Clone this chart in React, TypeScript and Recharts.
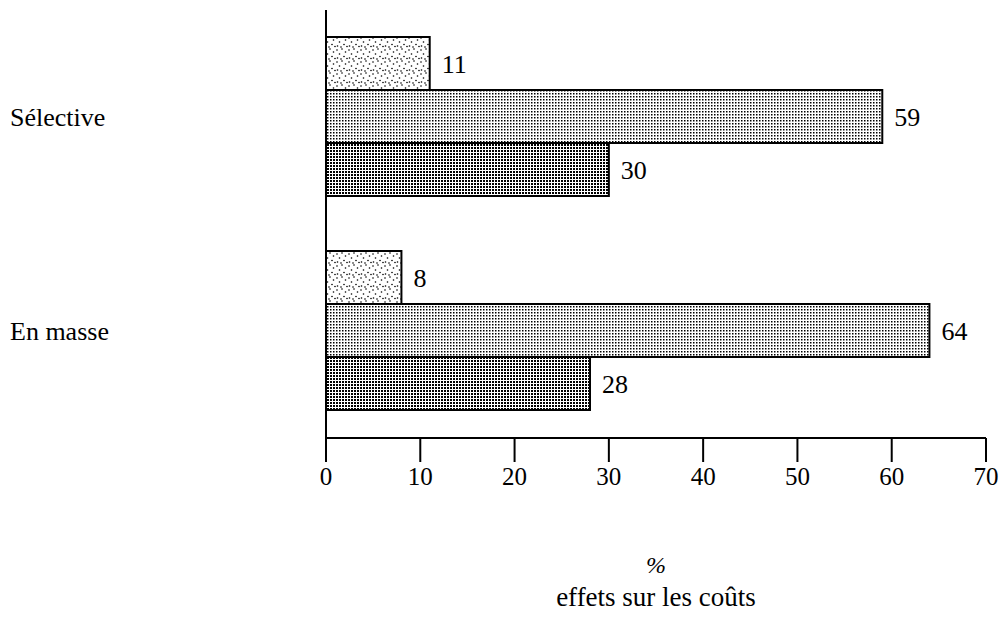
import React from 'react';
import { BarChart, Bar, XAxis, YAxis, LabelList, Label } from 'recharts';

const categories = ['Sélective', 'En masse'];
const serieA = [11, 8];
const serieB = [59, 64];
const serieC = [30, 28];
const xTicks = [0, 10, 20, 30, 40, 50, 60, 70];

const data = categories.map((c, i) => ({ cat: c, a: serieA[i], b: serieB[i], c: serieC[i] }));

const FONT = '"Liberation Serif", "DejaVu Serif", serif';

const CatTick = (props: any) => {
  const { y, payload } = props;
  return (
    <text x={10} y={y} dy="0.35em" textAnchor="start" fontFamily={FONT} fontSize={26} fill="#000">
      {payload.value}
    </text>
  );
};

const AxisTitle = (props: any) => {
  const vb = props.viewBox || {};
  const cx = 656;
  return (
    <g>
      <text x={cx} y={vb.y + 135} textAnchor="middle" fontFamily={FONT} fontStyle="italic" fontSize={24} fill="#000">%</text>
      <text x={cx} y={vb.y + 168} textAnchor="middle" fontFamily={FONT} fontSize={27} fill="#000">effets sur les coûts</text>
    </g>
  );
};

export default function App() {
  return (
    <div style={{ position: 'absolute', left: 0, top: 0, width: 1005, height: 624, background: '#fff' }}>
      <BarChart
        width={1005}
        height={624}
        data={data}
        layout="vertical"
        margin={{ top: 10, right: 19, left: 10, bottom: 126 }}
        barCategoryGap="12.6%"
        barGap={0}
      >
        <defs>
          <pattern id="pA" width="12" height="12" patternUnits="userSpaceOnUse">
            <rect width="12" height="12" fill="#fff" />
            <circle cx="1" cy="2" r="0.8" fill="#000" />
            <circle cx="6" cy="1" r="0.8" fill="#000" />
            <circle cx="9.5" cy="4" r="0.8" fill="#000" />
            <circle cx="3.5" cy="6" r="0.8" fill="#000" />
            <circle cx="8" cy="8.5" r="0.8" fill="#000" />
            <circle cx="1.5" cy="10" r="0.8" fill="#000" />
            <circle cx="5" cy="11" r="0.8" fill="#000" />
            <circle cx="11" cy="10.5" r="0.8" fill="#000" />
          </pattern>
          <pattern id="pB" width="3" height="3" patternUnits="userSpaceOnUse">
            <rect width="3" height="3" fill="#fff" />
            <rect x="0" y="0" width="1.5" height="1.5" fill="#000" />
          </pattern>
          <pattern id="pC" width="3" height="3" patternUnits="userSpaceOnUse">
            <rect width="3" height="3" fill="#fff" />
            <rect x="0" y="0" width="2" height="2" fill="#000" />
          </pattern>
        </defs>
        <XAxis
          type="number"
          domain={[0, 70]}
          ticks={xTicks}
          interval={0}
          tickSize={24}
          tickMargin={5}
          height={60}
          axisLine={{ stroke: '#000', strokeWidth: 2 }}
          tickLine={{ stroke: '#000', strokeWidth: 2 }}
          tick={{ fill: '#000', fontFamily: FONT, fontSize: 25 }}
        >
          <Label content={<AxisTitle />} />
        </XAxis>
        <YAxis
          type="category"
          dataKey="cat"
          width={316}
          tickLine={false}
          axisLine={{ stroke: '#000', strokeWidth: 2 }}
          tick={<CatTick />}
        />
        <Bar dataKey="a" name="Série 1" fill="url(#pA)" stroke="#000" strokeWidth={2} isAnimationActive={false}>
          <LabelList dataKey="a" position="right" offset={12} fill="#000" fontFamily={FONT} fontSize={26} />
        </Bar>
        <Bar dataKey="b" name="Série 2" fill="url(#pB)" stroke="#000" strokeWidth={2} isAnimationActive={false}>
          <LabelList dataKey="b" position="right" offset={12} fill="#000" fontFamily={FONT} fontSize={26} />
        </Bar>
        <Bar dataKey="c" name="Série 3" fill="url(#pC)" stroke="#000" strokeWidth={2} isAnimationActive={false}>
          <LabelList dataKey="c" position="right" offset={12} fill="#000" fontFamily={FONT} fontSize={26} />
        </Bar>
      </BarChart>
    </div>
  );
}
